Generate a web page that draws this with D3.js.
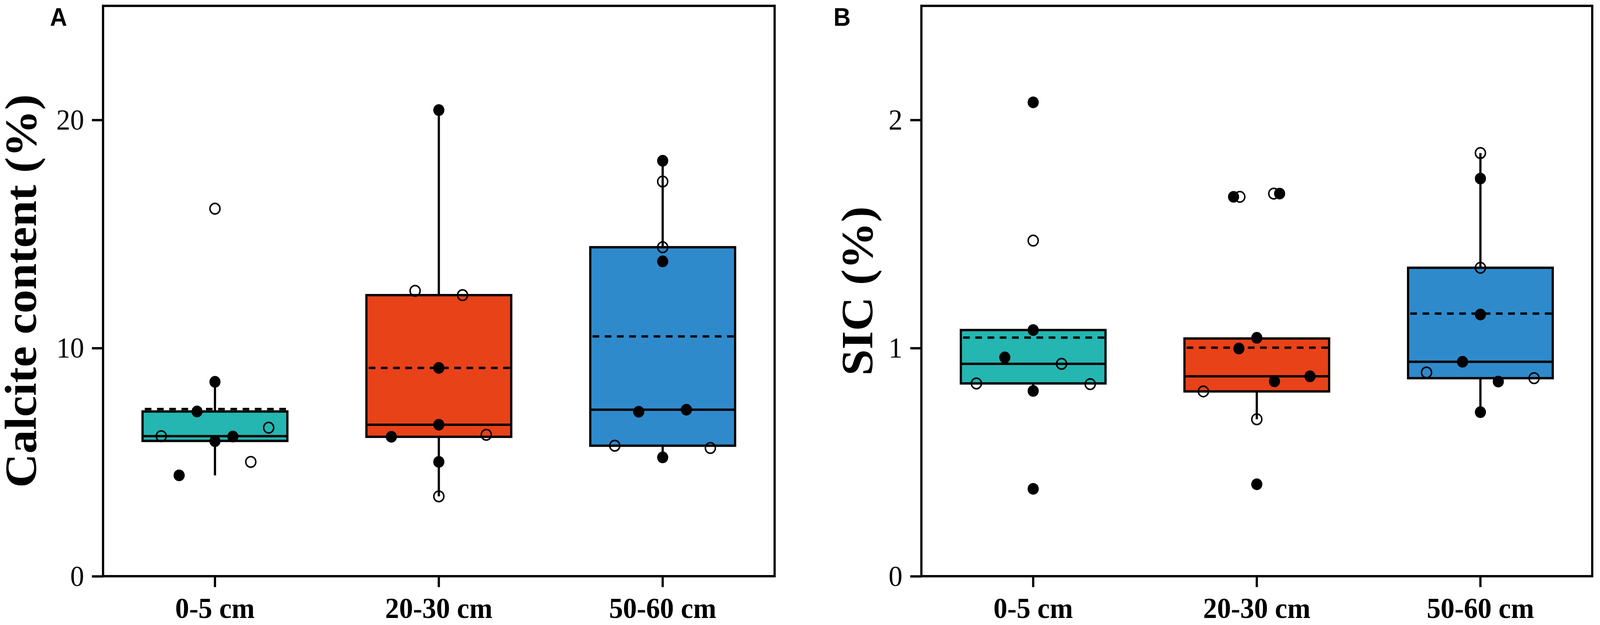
<!DOCTYPE html>
<html>
<head>
<meta charset="utf-8">
<script src="https://cdn.jsdelivr.net/npm/d3@7"></script>
<style>
  html, body { margin: 0; padding: 0; width: 100%; height: 100%; overflow: hidden; background: #fff; }
  svg { display: block; }
</style>
</head>
<body>
<script>
// categories
var depths = ["0-5 cm", "20-30 cm", "50-60 cm"];

// A: calcite content (%), points per depth
var calciteValues = [
  [16.11, 8.52, 7.22, 6.14, 5.92, 6.12, 6.51, 5.01, 4.42],
  [20.43, 12.51, 12.32, 9.13, 6.64, 6.11, 6.20, 5.01, 3.50],
  [18.21, 17.30, 14.42, 13.80, 7.21, 7.30, 5.72, 5.62, 5.21]
];
var calciteOpen = [
  [1, 0, 0, 1, 0, 0, 1, 1, 0],
  [0, 1, 1, 0, 0, 0, 1, 0, 1],
  [0, 1, 1, 0, 0, 0, 1, 1, 0]
];
var calciteJitter = [
  [0, 0, -0.08, -0.24, 0, 0.08, 0.24, 0.16, -0.16],
  [0, -0.106, 0.106, 0, 0, -0.212, 0.212, 0, 0],
  [0, 0, 0, 0, -0.107, 0.106, -0.214, 0.213, 0]
];
var calciteQ1 = [5.93, 6.11, 5.72];
var calciteMedian = [6.14, 6.64, 7.30];
var calciteQ3 = [7.22, 12.32, 14.42];
var calciteMean = [7.33, 9.13, 10.51];
var calciteLow = [4.42, 3.50, 5.21];
var calciteHigh = [8.52, 20.43, 18.21];
var calciteTicks = [0, 10, 20];

// B: SIC (%)
var sicValues = [
  [2.077, 1.471, 1.079, 0.959, 0.931, 0.845, 0.842, 0.812, 0.383],
  [1.663, 1.663, 1.677, 1.677, 1.045, 0.998, 0.876, 0.854, 0.810, 0.688, 0.403],
  [1.855, 1.743, 1.352, 1.147, 0.940, 0.893, 0.853, 0.868, 0.719]
];
var sicOpen = [
  [0, 1, 0, 0, 1, 1, 1, 0, 0],
  [0, 1, 1, 0, 0, 0, 0, 0, 1, 1, 0],
  [1, 0, 1, 0, 0, 1, 0, 1, 0]
];
var sicJitter = [
  [0, 0, 0, -0.127, 0.127, -0.254, 0.255, 0, 0],
  [-0.104, -0.076, 0.076, 0.102, 0, -0.080, 0.238, 0.079, -0.239, 0, 0],
  [0, 0, 0, 0, -0.080, -0.241, 0.080, 0.240, 0]
];
var sicQ1 = [0.845, 0.810, 0.868];
var sicMedian = [0.931, 0.876, 0.940];
var sicQ3 = [1.079, 1.042, 1.352];
var sicMean = [1.046, 1.002, 1.151];
var sicLow = [0.812, 0.688, 0.719];
var sicHigh = [1.079, 1.042, 1.855];
var sicTicks = [0, 1, 2];

var boxColors = ["#25b6b1", "#e84219", "#2f8acc"];

var W = 4317, H = 1601;
var plotTop = 15, plotBottom = 1476;
var lw = 6;

// scale the drawing to whatever the viewport is
var svg = d3.select("body").append("svg")
    .attr("viewBox", "0 0 " + W + " " + H)
    .attr("preserveAspectRatio", "none")
    .style("width", "100vw")
    .style("height", "100vh");

svg.append("rect").attr("width", W).attr("height", H).attr("fill", "#fff");

function drawPanel(p) {
  var g = svg.append("g");

  var x = d3.scaleBand().domain(depths).range([p.left, p.right]).padding(0);
  var y = d3.scaleLinear().domain([0, p.ymax]).range([plotBottom, plotTop]);
  var bw = x.bandwidth() * 0.647;

  depths.forEach(function(d, i) {
    var cx = x(d) + x.bandwidth() / 2;

    // whiskers
    g.append("line")
        .attr("x1", cx).attr("x2", cx)
        .attr("y1", y(p.q3[i])).attr("y2", y(p.high[i]))
        .attr("stroke", "#000").attr("stroke-width", lw);
    g.append("line")
        .attr("x1", cx).attr("x2", cx)
        .attr("y1", y(p.q1[i])).attr("y2", y(p.low[i]))
        .attr("stroke", "#000").attr("stroke-width", lw);

    // box
    g.append("rect")
        .attr("x", cx - bw / 2)
        .attr("y", y(p.q3[i]))
        .attr("width", bw)
        .attr("height", y(p.q1[i]) - y(p.q3[i]))
        .attr("fill", boxColors[i])
        .attr("stroke", "#000")
        .attr("stroke-width", lw);

    // median
    g.append("line")
        .attr("x1", cx - bw / 2).attr("x2", cx + bw / 2)
        .attr("y1", y(p.median[i])).attr("y2", y(p.median[i]))
        .attr("stroke", "#000").attr("stroke-width", lw);

    // mean (dashed)
    g.append("line")
        .attr("x1", cx - bw / 2 + 6).attr("x2", cx + bw / 2)
        .attr("y1", y(p.mean[i])).attr("y2", y(p.mean[i]))
        .attr("stroke", "#000").attr("stroke-width", lw)
        .attr("stroke-dasharray", "18,15");

    // points
    var pts = p.values[i].map(function(v, j) {
      return {v: v, open: p.open[i][j], j: p.jitter[i][j]};
    });
    g.selectAll(null)
      .data(pts)
      .enter().append("circle")
        .attr("cx", function(e) { return cx + e.j * x.bandwidth(); })
        .attr("cy", function(e) { return y(e.v); })
        .attr("r", function(e) { return e.open ? 13.5 : 15; })
        .attr("fill", function(e) { return e.open ? "none" : "#000"; })
        .attr("stroke", "#000")
        .attr("stroke-width", function(e) { return e.open ? 4 : 0; });
  });

  // frame
  g.append("rect")
      .attr("x", p.left).attr("y", plotTop)
      .attr("width", p.right - p.left)
      .attr("height", plotBottom - plotTop)
      .attr("fill", "none")
      .attr("stroke", "#000")
      .attr("stroke-width", lw);

  // y axis
  var yAxis = g.append("g")
      .attr("transform", "translate(" + p.left + ",0)")
      .call(d3.axisLeft(y).tickValues(p.ticks).tickFormat(d3.format("d")).tickSize(30).tickPadding(21));
  yAxis.select(".domain").remove();
  yAxis.selectAll("line").attr("stroke-width", lw);
  yAxis.selectAll("text")
      .attr("font-family", "'Liberation Serif', 'Times New Roman', serif")
      .attr("font-size", 75)
      .attr("fill", "#000");

  // x axis
  var xAxis = g.append("g")
      .attr("transform", "translate(0," + plotBottom + ")")
      .call(d3.axisBottom(x).tickSize(28).tickPadding(26));
  xAxis.select(".domain").remove();
  xAxis.selectAll("line").attr("stroke-width", lw);
  xAxis.selectAll("text")
      .attr("font-family", "'Liberation Serif', 'Times New Roman', serif")
      .attr("font-weight", "bold")
      .attr("font-size", 75)
      .attr("fill", "#000");

  // y label
  g.append("text")
      .attr("transform", "translate(" + p.labelX + "," + ((plotTop + plotBottom) / 2) + ") rotate(-90)")
      .attr("text-anchor", "middle")
      .attr("font-family", "'Liberation Serif', 'Times New Roman', serif")
      .attr("font-weight", "bold")
      .attr("font-size", 121)
      .text(p.title);

  // panel letter
  g.append("text")
      .attr("x", p.letterX)
      .attr("y", 66)
      .attr("font-family", "'Liberation Sans', Arial, sans-serif")
      .attr("font-weight", "bold")
      .attr("font-size", 64)
      .text(p.letter);
}

drawPanel({
  left: 278, right: 2090, ymax: 25,
  values: calciteValues, open: calciteOpen, jitter: calciteJitter,
  q1: calciteQ1, median: calciteMedian, q3: calciteQ3, mean: calciteMean,
  low: calciteLow, high: calciteHigh, ticks: calciteTicks,
  title: "Calcite content (%)", labelX: 97, letter: "A", letterX: 135
});

drawPanel({
  left: 2486, right: 4296, ymax: 2.5,
  values: sicValues, open: sicOpen, jitter: sicJitter,
  q1: sicQ1, median: sicMedian, q3: sicQ3, mean: sicMean,
  low: sicLow, high: sicHigh, ticks: sicTicks,
  title: "SIC (%)", labelX: 2353, letter: "B", letterX: 2249
});
</script>
</body>
</html>
